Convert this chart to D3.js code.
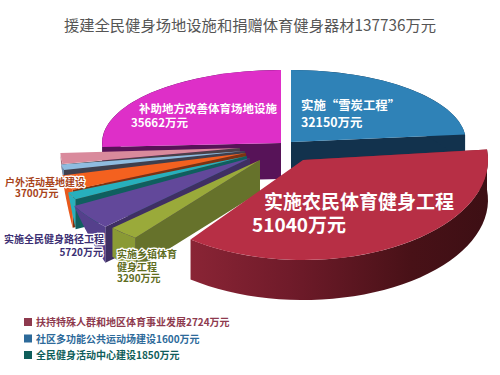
<!DOCTYPE html>
<html>
<head>
<meta charset="utf-8">
<script src="https://cdn.jsdelivr.net/npm/d3@7"></script>
<style>
  html, body { margin: 0; padding: 0; background: #fff; }
  svg { display: block; }
  text { font-family: "Noto Sans CJK SC", "Noto Sans", sans-serif; font-weight: 700; }
  .halo { paint-order: stroke; stroke: #fff; stroke-width: 2.5px; stroke-linejoin: round; }
</style>
</head>
<body>
<svg id="chart" width="500" height="375"></svg>
<script>
var title = "援建全民健身场地设施和捐赠体育健身器材137736万元";

// clockwise from 12 o'clock
var names = ["实施“雪炭工程”", "实施农民体育健身工程", "实施乡镇体育健身工程", "实施全民健身路径工程",
             "全民健身活动中心建设", "户外活动基地建设", "社区多功能公共运动场建设",
             "扶持特殊人群和地区体育事业发展", "补助地方改善体育场地设施"];
var values = [32150, 51040, 3290, 5720, 1850, 3700, 1600, 2724, 35662];

var legendNames = ["扶持特殊人群和地区体育事业发展2724万元", "社区多功能公共运动场建设1600万元", "全民健身活动中心建设1850万元"];

// slice look
var topColors  = ["#2f82b7", "#b72f45", "#9aaa3a", "#62489a", "#27b0bd", "#f4611f", "#8fbce0", "#d98a9c", "#de2fc8"];
var sideColors = ["#12324d", "#7d1f2e", "#66722b", "#3f2f63", "#0f5f5f", "#7c3212", "#3f3f4d", "#4a4048", "#571358"];
var rimColors  = ["#12324d", "url(#redWall)", "#8a9a35", "#55408c", "#27b0bd", "#e8591c", "#6f93b0", "#a96c7a", "#571358"];

// exploded geometry, one entry per slice
var apexX = [291, 303, 260, 250, 247, 246, 245, 240, 281];
var apexY = [142, 160, 160, 158, 156, 153, 151, 148, 143];
var radX  = [175, 185, 205, 201, 196, 190, 187, 180, 179];
var radY  = [ 72, 100,  98,  99,  89,  90,  76,  90,  73];
var depth = [ 40,  40,  32,  36,  30,  38,  10,  12,  36];
// how much of the wall depth is left at the far end of the rim
var rimTaper = [1, 1, 0.9, 0, 0, 0, 0, 0, 1];
var drawOrder = [8, 0, 7, 6, 5, 4, 3, 2, 1];

var svg = d3.select("#chart");

var grad = svg.append("defs").append("linearGradient")
    .attr("id", "redWall")
    .attr("gradientUnits", "userSpaceOnUse")
    .attr("x1", 182).attr("x2", 488).attr("y1", 0).attr("y2", 0);
grad.append("stop").attr("offset", "0").attr("stop-color", "#8c2536");
grad.append("stop").attr("offset", "0.35").attr("stop-color", "#701b2a");
grad.append("stop").attr("offset", "0.75").attr("stop-color", "#481117");
grad.append("stop").attr("offset", "1").attr("stop-color", "#3d0f14");

var slices = d3.pie().sort(null).value(function(d) { return d; })(values);
var arc = d3.arc().innerRadius(0).outerRadius(1);
var line = d3.line();

function px(i, t) { return apexX[i] + radX[i] * Math.sin(t); }
function py(i, t) { return apexY[i] - radY[i] * Math.cos(t); }

// flat wall hanging under one radial edge
function edgeWall(i, t) {
  var d = depth[i];
  return line([[apexX[i], apexY[i]], [px(i, t), py(i, t)], [px(i, t), py(i, t) + d], [apexX[i], apexY[i] + d]]) + "Z";
}

// curved wall under the rim
function rimWall(i, a0, a1) {
  var steps = d3.range(0, 41).map(function(k) { return k / 40; });
  var upper = steps.map(function(f) {
    var t = a0 + (a1 - a0) * f;
    return [px(i, t), py(i, t)];
  });
  var lower = steps.slice().reverse().map(function(f) {
    var t = a0 + (a1 - a0) * f;
    return [px(i, t), py(i, t) + depth[i] * (1 - f * (1 - rimTaper[i]))];
  });
  return line(upper.concat(lower)) + "Z";
}

var g = svg.selectAll(".slice")
    .data(drawOrder)
  .enter().append("g")
    .attr("class", "slice");

g.append("path")
    .attr("fill", function(i) { return sideColors[i]; })
    .attr("d", function(i) {
      var s = slices[i];
      return edgeWall(i, s.endAngle < Math.PI ? s.endAngle : s.startAngle);
    });

g.append("path")
    .attr("fill", function(i) { return rimColors[i]; })
    .attr("d", function(i) { return rimWall(i, slices[i].startAngle, slices[i].endAngle); });

g.append("path")
    .attr("fill", function(i) { return topColors[i]; })
    .attr("transform", function(i) { return "translate(" + apexX[i] + "," + apexY[i] + ") scale(" + radX[i] + "," + radY[i] + ")"; })
    .attr("d", function(i) { return arc(slices[i]); });

// title
svg.append("text")
    .attr("x", 250).attr("y", 31)
    .attr("text-anchor", "middle")
    .style("font-size", "15.3px")
    .style("font-weight", "400")
    .attr("fill", "#555")
    .text(title);

// labels on and around the pie
var labelLines = [
  ["实施“雪炭工程”", "32150万元"],
  ["补助地方改善体育场地设施", "35662万元"],
  ["实施农民体育健身工程", "51040万元"],
  ["户外活动基地建设", "3700万元"],
  ["实施全民健身路径工程", "5720万元"],
  ["实施乡镇体育", "健身工程", "3290万元"]
];
var labelX      = [[301, 301], [139, 131], [264, 252], [5, 15], [4, 103], [117, 117, 117]];
var labelY      = [[110, 127], [113, 127], [209, 232], [186, 197], [243, 256], [258, 271, 282]];
var labelAnchor = [["start", "start"], ["start", "start"], ["start", "start"], ["start", "start"], ["start", "end"], ["start", "start", "start"]];
var labelSize   = [12.4, 11.5, 19, 10, 10, 10];
var labelColor  = ["#fff", "#fff", "#fff", "#a8431a", "#3c2f73", "#5f6d1e"];
var labelHalo   = [false, false, false, true, true, true];

labelLines.forEach(function(lines, i) {
  svg.selectAll(".label" + i)
      .data(lines)
    .enter().append("text")
      .attr("class", labelHalo[i] ? "halo" : null)
      .attr("x", function(d, k) { return labelX[i][k]; })
      .attr("y", function(d, k) { return labelY[i][k]; })
      .attr("text-anchor", function(d, k) { return labelAnchor[i][k]; })
      .attr("fill", labelColor[i])
      .style("font-size", labelSize[i] + "px")
      .text(function(d) { return d; });
});

// legend
var legendColors = ["#8e3a4e", "#2d6a9a", "#0f5e5a"];
var legendY = d3.scalePoint().domain(legendNames).range([322, 355]);

var lg = svg.selectAll(".legend")
    .data(legendNames)
  .enter().append("g")
    .attr("class", "legend")
    .attr("transform", function(d) { return "translate(24," + legendY(d) + ")"; });

lg.append("rect")
    .attr("x", 0).attr("y", -4)
    .attr("width", 8).attr("height", 8)
    .attr("fill", function(d, i) { return legendColors[i]; });

lg.append("text")
    .attr("x", 12).attr("y", 4)
    .attr("fill", function(d, i) { return legendColors[i]; })
    .style("font-size", "10px")
    .text(function(d) { return d; });
</script>
</body>
</html>
